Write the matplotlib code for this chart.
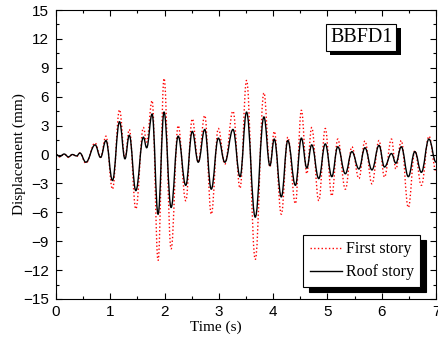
import matplotlib
matplotlib.use("Agg")
import matplotlib.pyplot as plt
import matplotlib.patheffects as pe
from matplotlib.path import Path
from matplotlib.patches import PathPatch
from matplotlib.lines import Line2D
from matplotlib.ticker import MultipleLocator

time_s = [0, 0.07, 0.15, 0.23, 0.30, 0.38, 0.44, 0.55, 0.72, 0.82, 0.92, 1.04, 1.17, 1.27, 1.35,
          1.47, 1.61, 1.67, 1.77, 1.88, 1.99, 2.12, 2.25, 2.39, 2.51, 2.62, 2.74, 2.86, 2.99, 3.11,
          3.26, 3.39, 3.51, 3.67, 3.83, 3.94, 4.02, 4.15, 4.27, 4.41, 4.52, 4.62, 4.71, 4.84, 4.96,
          5.08, 5.19, 5.33, 5.45, 5.58, 5.69, 5.82, 5.95, 6.05, 6.18, 6.26, 6.36, 6.49, 6.61, 6.73,
          6.87, 7.0]
first_story = [0, -0.25, 0.05, -0.3, 0.0, -0.2, 0.15, -0.9, 1.2, -0.3, 1.9, -3.6, 4.65, -0.4, 2.6,
               -5.65, 2.8, 1.3, 5.6, -11.0, 7.9, -9.8, 3.0, -4.8, 3.7, -0.8, 4.05, -6.2, 2.7, -1.0,
               4.5, -3.5, 7.7, -10.9, 6.4, -1.3, 2.4, -6.2, 1.8, -5.1, 4.6, -2.0, 2.8, -4.8, 2.7,
               -4.3, 1.6, -3.6, 0.8, -2.5, 1.4, -3.05, 1.45, -2.35, 1.6, -1.5, 1.45, -5.5, 0.4, -3.2,
               1.9, -1.7]
roof_story = [0, -0.2, 0.05, -0.25, 0.0, -0.15, 0.15, -0.8, 1.0, -0.3, 1.45, -2.7, 3.4, -0.45, 2.0,
              -3.75, 1.8, 0.7, 4.2, -6.2, 4.4, -5.5, 1.9, -3.2, 2.4, -0.8, 2.6, -3.6, 1.7, -0.8,
              2.6, -2.3, 4.4, -6.5, 3.9, -1.15, 1.6, -4.4, 1.45, -3.2, 1.7, -1.4, 1.0, -2.5, 1.1,
              -2.3, 0.8, -2.0, 0.3, -1.5, 0.7, -1.6, 0.95, -1.3, 0.1, -0.9, 0.8, -2.3, 0.3, -1.85,
              1.6, -0.8]
x_ticks = [0, 1, 2, 3, 4, 5, 6, 7]
y_ticks = [-15, -12, -9, -6, -3, 0, 3, 6, 9, 12, 15]


def smooth_path(xs, ys):
    """Cubic Bezier path through the given extrema (horizontal tangents at each)."""
    verts = [(xs[0], ys[0])]
    codes = [Path.MOVETO]
    for i in range(len(xs) - 1):
        dx = (xs[i + 1] - xs[i]) / 2.5
        verts += [(xs[i] + dx, ys[i]), (xs[i + 1] - dx, ys[i + 1]), (xs[i + 1], ys[i + 1])]
        codes += [Path.CURVE4] * 3
    return Path(verts, codes)


fig = plt.figure(figsize=(4.39, 3.49), dpi=100)
ax = fig.add_axes([0.1276, 0.1433, 0.8656, 0.828])

ax.add_patch(PathPatch(smooth_path(time_s, first_story), fill=False, edgecolor="red",
                       linestyle=":", linewidth=1.0))
ax.add_patch(PathPatch(smooth_path(time_s, roof_story), fill=False, edgecolor="black",
                       linestyle="-", linewidth=1.0))

ax.set_xlim(0, 7)
ax.set_ylim(-15, 15)
ax.set_xticks(x_ticks)
ax.set_yticks(y_ticks)
ax.xaxis.set_minor_locator(MultipleLocator(0.5))
ax.yaxis.set_minor_locator(MultipleLocator(1.5))
ax.tick_params(which="both", direction="in", top=True, right=True)
ax.tick_params(which="major", length=4, width=0.8, labelsize=11)
ax.tick_params(which="minor", length=2, width=0.8)
for lbl in ax.get_xticklabels() + ax.get_yticklabels():
    lbl.set_family("Liberation Sans")
ax.tick_params(axis="x", pad=4)
ax.tick_params(axis="y", pad=5)

serif = "Liberation Serif"
ax.set_xlabel("Time (s)", family=serif, fontsize=11, labelpad=2)
ax.xaxis.set_label_coords(0.42, -0.075)
ax.set_ylabel("Displacement (mm)", family=serif, fontsize=11, labelpad=-2)

handles = [Line2D([], [], color="red", linestyle=":", linewidth=1.0),
           Line2D([], [], color="black", linestyle="-", linewidth=1.0)]
leg = ax.legend(handles, ["First story", "Roof story"], loc="lower right",
                bbox_to_anchor=(0.958, 0.042), borderaxespad=0, prop={"family": serif, "size": 11.5},
                frameon=True, fancybox=False, edgecolor="black", framealpha=1,
                shadow={"color": "black", "alpha": 1, "ox": 4, "oy": -4},
                handlelength=2.0, handletextpad=0.25, borderpad=0.4, labelspacing=0.45)
leg.get_frame().set_linewidth(0.8)

t = ax.text(0.803, 0.906, "BBFD1", transform=ax.transAxes, ha="center", va="center",
            family=serif, fontsize=14.5,
            bbox=dict(boxstyle="square,pad=0.2", facecolor="white", edgecolor="black", linewidth=0.8))
t.get_bbox_patch().set_path_effects([pe.SimplePatchShadow(offset=(3, -3), shadow_rgbFace="black", alpha=1),
                                     pe.Normal()])

fig.savefig("out.png", dpi=100)
